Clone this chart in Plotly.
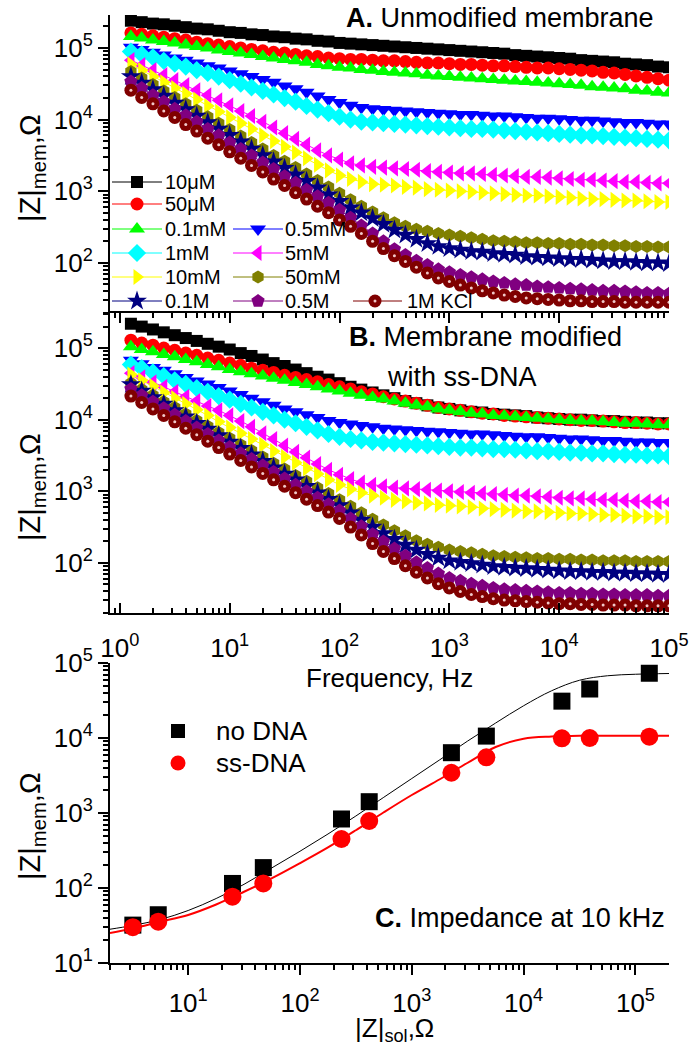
import plotly.graph_objects as go

# ---------------- data ----------------
freq_hz = [1.26, 1.58, 2.0, 2.51, 3.16, 3.98, 5.01, 6.31, 7.94, 10.0,
           12.6, 15.8, 20.0, 25.1, 31.6, 39.8, 50.1, 63.1, 79.4, 100.0,
           126, 158, 200, 251, 316, 398, 501, 631, 794, 1000,
           1259, 1585, 1995, 2512, 3162, 3981, 5012, 6310, 7943, 10000,
           12589, 15849, 19953, 25119, 31623, 39811, 50119, 63096, 79433, 100000]

conc_labels = ["10μM", "50μM", "0.1mM", "0.5mM", "1mM", "5mM",
               "10mM", "50mM", "0.1M", "0.5M", "1M KCl"]

# log10(|Z|mem / Ohm) (unmodified membrane)
a_10uM = [5.38,5.36,5.34,5.33,5.31,5.29,5.27,5.26,5.24,5.22, 5.21,5.19,5.18,5.16,5.15,5.13,5.12,5.10,5.09,5.07, 5.06,5.05,5.04,5.03,5.02,5.01,5.00,4.99,4.98,4.97, 4.96,4.95,4.94,4.93,4.92,4.90,4.89,4.88,4.87,4.86, 4.85,4.83,4.82,4.81,4.80,4.78,4.77,4.76,4.74,4.73]
a_50uM = [5.21,5.19,5.17,5.15,5.13,5.11,5.08,5.06,5.04,5.02, 5.00,4.98,4.96,4.94,4.93,4.91,4.89,4.88,4.86,4.85, 4.84,4.84,4.83,4.82,4.82,4.81,4.80,4.79,4.79,4.78, 4.77,4.77,4.76,4.75,4.75,4.74,4.73,4.72,4.72,4.71, 4.70,4.69,4.68,4.66,4.65,4.63,4.61,4.59,4.57,4.55]
a_0p1mM = [5.16,5.14,5.11,5.09,5.07,5.04,5.02,5.00,4.97,4.95, 4.93,4.91,4.88,4.86,4.84,4.82,4.80,4.77,4.75,4.73, 4.72,4.70,4.69,4.67,4.66,4.65,4.64,4.62,4.61,4.60, 4.59,4.58,4.57,4.56,4.55,4.54,4.53,4.52,4.51,4.50, 4.49,4.48,4.46,4.45,4.44,4.43,4.41,4.40,4.38,4.37]
a_0p5mM = [5.01,4.98,4.94,4.90,4.86,4.83,4.79,4.75,4.72,4.68, 4.64,4.60,4.56,4.52,4.47,4.43,4.38,4.33,4.28,4.24, 4.20,4.17,4.15,4.14,4.13,4.12,4.11,4.10,4.09,4.08, 4.07,4.07,4.06,4.05,4.05,4.04,4.03,4.02,4.02,4.01, 4.00,3.99,3.99,3.98,3.97,3.96,3.96,3.95,3.94,3.94]
a_1mM = [4.95,4.91,4.87,4.82,4.78,4.74,4.69,4.65,4.60,4.55, 4.50,4.45,4.40,4.35,4.30,4.25,4.19,4.14,4.09,4.04, 4.00,3.97,3.96,3.95,3.94,3.93,3.92,3.91,3.90,3.89, 3.88,3.87,3.87,3.86,3.85,3.84,3.83,3.82,3.81,3.80, 3.79,3.78,3.78,3.77,3.76,3.75,3.74,3.73,3.72,3.71]
a_5mM = [4.83,4.76,4.69,4.62,4.55,4.48,4.41,4.34,4.27,4.20, 4.12,4.05,3.97,3.89,3.81,3.73,3.65,3.57,3.50,3.44, 3.39,3.36,3.34,3.33,3.32,3.31,3.30,3.28,3.27,3.26, 3.25,3.25,3.24,3.23,3.22,3.21,3.20,3.20,3.19,3.18, 3.17,3.16,3.16,3.15,3.14,3.13,3.13,3.12,3.11,3.11]
a_10mM = [4.77,4.69,4.60,4.52,4.44,4.36,4.28,4.19,4.11,4.03, 3.95,3.87,3.78,3.70,3.62,3.54,3.46,3.37,3.29,3.22, 3.17,3.13,3.10,3.09,3.08,3.06,3.05,3.03,3.02,3.01, 3.00,2.99,2.98,2.97,2.96,2.95,2.94,2.94,2.93,2.92, 2.91,2.90,2.89,2.89,2.88,2.87,2.87,2.86,2.85,2.85]
a_50mM = [4.67,4.58,4.49,4.40,4.31,4.22,4.13,4.04,3.95,3.86, 3.77,3.68,3.59,3.50,3.42,3.33,3.24,3.15,3.06,2.97, 2.88,2.79,2.71,2.63,2.56,2.51,2.47,2.44,2.41,2.39, 2.37,2.35,2.33,2.31,2.30,2.29,2.28,2.28,2.27,2.27, 2.26,2.26,2.25,2.25,2.24,2.24,2.23,2.23,2.22,2.22]
a_0p1M = [4.60,4.51,4.42,4.33,4.23,4.14,4.05,3.96,3.87,3.78, 3.69,3.59,3.50,3.41,3.32,3.23,3.14,3.05,2.95,2.86, 2.77,2.70,2.62,2.54,2.46,2.39,2.33,2.27,2.23,2.20, 2.18,2.16,2.15,2.13,2.12,2.11,2.09,2.08,2.07,2.06, 2.05,2.05,2.04,2.03,2.02,2.02,2.01,2.00,2.00,1.99]
a_0p5M = [4.53,4.44,4.34,4.25,4.15,4.06,3.97,3.87,3.78,3.68, 3.59,3.50,3.40,3.31,3.21,3.12,3.02,2.93,2.84,2.74, 2.63,2.52,2.41,2.30,2.19,2.11,2.03,1.97,1.91,1.87, 1.83,1.80,1.77,1.74,1.72,1.70,1.69,1.67,1.66,1.65, 1.64,1.63,1.62,1.61,1.61,1.60,1.59,1.58,1.58,1.57]
a_1M = [4.41,4.31,4.22,4.12,4.03,3.93,3.84,3.74,3.65,3.55, 3.46,3.36,3.27,3.17,3.08,2.98,2.89,2.79,2.70,2.60, 2.51,2.41,2.30,2.20,2.10,2.02,1.94,1.86,1.79,1.74, 1.69,1.65,1.61,1.58,1.55,1.53,1.51,1.50,1.49,1.48, 1.47,1.47,1.46,1.46,1.46,1.45,1.45,1.45,1.45,1.45]

# log10(|Z|mem / Ohm) (membrane modified with ss-DNA)
b_10uM = [5.34,5.30,5.26,5.22,5.18,5.14,5.10,5.06,5.02,4.98, 4.93,4.89,4.84,4.79,4.75,4.70,4.65,4.60,4.56,4.51, 4.46,4.42,4.38,4.34,4.30,4.26,4.23,4.20,4.17,4.15, 4.13,4.11,4.10,4.08,4.07,4.06,4.05,4.03,4.02,4.01, 4.00,4.00,3.99,3.98,3.98,3.97,3.96,3.96,3.95,3.95]
b_50uM = [5.11,5.07,5.04,5.00,4.97,4.93,4.90,4.86,4.83,4.79, 4.76,4.72,4.69,4.66,4.62,4.59,4.56,4.53,4.49,4.46, 4.43,4.39,4.36,4.32,4.29,4.26,4.23,4.20,4.17,4.15, 4.13,4.11,4.09,4.08,4.06,4.05,4.04,4.03,4.02,4.01, 4.00,3.99,3.99,3.98,3.97,3.96,3.96,3.95,3.94,3.94]
b_0p1mM = [5.02,4.98,4.95,4.91,4.88,4.84,4.81,4.77,4.74,4.70, 4.67,4.64,4.61,4.58,4.55,4.52,4.49,4.46,4.43,4.40, 4.37,4.34,4.31,4.29,4.26,4.23,4.20,4.18,4.15,4.13, 4.11,4.09,4.08,4.06,4.05,4.04,4.03,4.02,4.01,4.00, 3.99,3.98,3.98,3.97,3.96,3.95,3.95,3.94,3.93,3.93]
b_0p5mM = [4.83,4.78,4.73,4.69,4.64,4.59,4.54,4.50,4.45,4.40, 4.35,4.30,4.25,4.20,4.15,4.11,4.07,4.03,3.99,3.96, 3.94,3.92,3.90,3.88,3.87,3.86,3.85,3.84,3.83,3.82, 3.81,3.80,3.80,3.79,3.78,3.77,3.76,3.76,3.75,3.74, 3.73,3.73,3.72,3.71,3.71,3.70,3.69,3.69,3.68,3.68]
b_1mM = [4.77,4.72,4.66,4.61,4.55,4.50,4.44,4.39,4.33,4.28, 4.22,4.17,4.11,4.06,4.00,3.95,3.90,3.85,3.80,3.76, 3.73,3.71,3.69,3.68,3.67,3.66,3.65,3.64,3.63,3.62, 3.61,3.61,3.60,3.59,3.59,3.58,3.57,3.56,3.56,3.55, 3.54,3.54,3.53,3.53,3.52,3.51,3.51,3.50,3.50,3.49]
b_5mM = [4.65,4.59,4.52,4.46,4.39,4.32,4.26,4.19,4.13,4.06, 3.98,3.90,3.81,3.73,3.64,3.55,3.47,3.38,3.30,3.23, 3.17,3.12,3.09,3.07,3.05,3.04,3.03,3.02,3.01,3.00, 2.99,2.98,2.97,2.96,2.95,2.94,2.94,2.93,2.92,2.91, 2.90,2.90,2.89,2.88,2.88,2.87,2.86,2.86,2.85,2.85]
b_10mM = [4.63,4.55,4.47,4.38,4.30,4.22,4.14,4.06,3.97,3.89, 3.81,3.73,3.65,3.56,3.48,3.40,3.32,3.24,3.16,3.09, 3.03,2.98,2.94,2.91,2.88,2.86,2.84,2.83,2.81,2.80, 2.79,2.78,2.76,2.75,2.74,2.73,2.72,2.72,2.71,2.70, 2.69,2.69,2.68,2.67,2.67,2.66,2.65,2.65,2.64,2.64]
b_50mM = [4.51,4.42,4.34,4.25,4.17,4.08,3.99,3.91,3.82,3.74, 3.65,3.57,3.48,3.39,3.31,3.22,3.14,3.05,2.97,2.88, 2.79,2.70,2.61,2.53,2.45,2.38,2.31,2.26,2.22,2.18, 2.16,2.14,2.12,2.10,2.09,2.08,2.07,2.06,2.06,2.05, 2.05,2.04,2.04,2.03,2.03,2.03,2.02,2.02,2.02,2.02]
b_0p1M = [4.49,4.40,4.31,4.22,4.13,4.04,3.95,3.87,3.78,3.69, 3.60,3.51,3.42,3.33,3.24,3.16,3.07,2.98,2.89,2.80, 2.70,2.60,2.50,2.41,2.33,2.25,2.18,2.12,2.07,2.03, 2.01,1.99,1.97,1.95,1.94,1.93,1.92,1.91,1.90,1.89, 1.88,1.88,1.87,1.87,1.86,1.86,1.85,1.85,1.84,1.84]
b_0p5M = [4.43,4.34,4.25,4.16,4.07,3.98,3.89,3.80,3.71,3.62, 3.53,3.45,3.36,3.27,3.18,3.09,3.00,2.91,2.82,2.73, 2.62,2.51,2.40,2.30,2.20,2.10,2.01,1.93,1.85,1.79, 1.75,1.71,1.68,1.65,1.63,1.62,1.61,1.60,1.59,1.58, 1.58,1.57,1.57,1.56,1.56,1.55,1.55,1.55,1.54,1.54]
b_1M = [4.33,4.24,4.15,4.06,3.97,3.88,3.79,3.70,3.61,3.52, 3.43,3.34,3.25,3.16,3.07,2.98,2.89,2.80,2.71,2.62, 2.50,2.39,2.27,2.16,2.06,1.96,1.87,1.79,1.71,1.65, 1.60,1.56,1.53,1.50,1.48,1.47,1.46,1.45,1.44,1.43, 1.43,1.42,1.42,1.41,1.41,1.41,1.40,1.40,1.40,1.40]

# Panel C: impedance at 10 kHz
zsol_ohm = [3.2, 5.4, 24.9, 47, 235, 416, 2260, 4640, 22000, 39000, 133000]
zmem_no_dna = [32, 44, 115, 187, 832, 1415, 6370, 10600, 31000, 45000, 73000]
zmem_ss_dna = [30, 35.6, 76.6, 115, 450, 782, 3440, 5530, 9900, 10000, 10400]
# fitted curves
fit_zsol = [2.0, 3.16, 5.62, 10, 17.8, 31.6, 56.2, 100, 178, 316, 562, 1000, 1780,
            3160, 5620, 10000, 17800, 31600, 56200, 100000, 200000]
fit_no_dna = [28.2, 31.6, 38.0, 50.1, 72.4, 112, 186, 309, 525, 912, 1622, 2884, 5129,
              9120, 15850, 26920, 42660, 58880, 67610, 70790, 72440]
fit_ss_dna = [25.1, 28.8, 35.5, 43.7, 60.3, 89.1, 135, 214, 347, 589, 1023, 1738, 2818,
              4677, 7586, 9772, 10470, 10720, 10720, 10720, 10720]

freq_ticks = [1, 10, 100, 1000, 10000, 100000]
freq_ticktext = ["10<sup>0</sup>", "10<sup>1</sup>", "10<sup>2</sup>",
                 "10<sup>3</sup>", "10<sup>4</sup>", "10<sup>5</sup>"]
zab_ticks = [100, 1000, 10000, 100000]
zab_ticktext = ["10<sup>2</sup>", "10<sup>3</sup>", "10<sup>4</sup>", "10<sup>5</sup>"]
zc_ticks = [10, 100, 1000, 10000, 100000]
zc_ticktext = ["10<sup>1</sup>", "10<sup>2</sup>", "10<sup>3</sup>", "10<sup>4</sup>", "10<sup>5</sup>"]

panel_a = [a_10uM, a_50uM, a_0p1mM, a_0p5mM, a_1mM, a_5mM, a_10mM, a_50mM, a_0p1M, a_0p5M, a_1M]
panel_b = [b_10uM, b_50uM, b_0p1mM, b_0p5mM, b_1mM, b_5mM, b_10mM, b_50mM, b_0p1M, b_0p5M, b_1M]

# ---------------- style ----------------
W, H = 694, 1050
FONT = "Liberation Sans, Arial, sans-serif"
colors = ["#000000", "#FF0000", "#00FF00", "#0000FF", "#00FFFF", "#FF00FF",
          "#FFFF00", "#808000", "#000080", "#800080", "#800000"]
symbols = ["square", "circle", "triangle-up", "triangle-down", "diamond", "triangle-left",
           "triangle-right", "hexagon", "star", "pentagon", "circle"]
msizes = [12, 13, 14, 14, 14, 14, 14, 13, 15, 14, 13]
HILITE = "#f0c8c8"

def px_x(p):
    return p / W

def px_y(p):
    return 1 - p / H

XDOM = [px_x(110), px_x(669)]

fig = go.Figure()

def add_panel(data, xa, ya):
    for i, series in enumerate(data):
        z = [10 ** v for v in series]
        fig.add_trace(go.Scatter(
            x=freq_hz, y=z, mode="lines+markers", xaxis=xa, yaxis=ya,
            line=dict(color=colors[i], width=1),
            marker=dict(symbol=symbols[i], size=msizes[i], color=colors[i], line=dict(width=0)),
            showlegend=False, hoverinfo="skip"))
        if i == len(data) - 1:
            fig.add_trace(go.Scatter(
                x=freq_hz, y=z, mode="markers", xaxis=xa, yaxis=ya,
                marker=dict(symbol="circle", size=3, color=HILITE, line=dict(width=0)),
                showlegend=False, hoverinfo="skip"))

add_panel(panel_a, "x", "y")
add_panel(panel_b, "x2", "y2")

# Panel C
fig.add_trace(go.Scatter(x=fit_zsol, y=fit_no_dna, mode="lines", xaxis="x3", yaxis="y3",
                         line=dict(color="black", width=1, shape="spline"), showlegend=False))
fig.add_trace(go.Scatter(x=fit_zsol, y=fit_ss_dna, mode="lines", xaxis="x3", yaxis="y3",
                         line=dict(color="red", width=2, shape="spline"), showlegend=False))
fig.add_trace(go.Scatter(x=zsol_ohm, y=zmem_no_dna, mode="markers", xaxis="x3", yaxis="y3",
                         marker=dict(symbol="square", size=17, color="black"), showlegend=False))
fig.add_trace(go.Scatter(x=zsol_ohm, y=zmem_ss_dna, mode="markers", xaxis="x3", yaxis="y3",
                         marker=dict(symbol="circle", size=18, color="red"), showlegend=False))

# ---------------- legends (drawn on a pixel overlay) ----------------
leg_rows_left = [(0, 182), (1, 204), (2, 229), (4, 253), (6, 277), (8, 301)]
leg_rows_right = [(3, 229), (5, 253), (7, 277), (9, 301)]
leg_rows_third = [(10, 301)]
annotations = []

def legend_entry(idx, y, x0, x1, xm, xt):
    fig.add_trace(go.Scatter(x=[x0, x1], y=[y, y], mode="lines", xaxis="x4", yaxis="y4",
                             line=dict(color=colors[idx], width=1), showlegend=False, hoverinfo="skip"))
    fig.add_trace(go.Scatter(x=[xm], y=[y], mode="markers", xaxis="x4", yaxis="y4",
                             marker=dict(symbol=symbols[idx], size=msizes[idx], color=colors[idx]),
                             showlegend=False, hoverinfo="skip"))
    if idx == 10:
        fig.add_trace(go.Scatter(x=[xm], y=[y], mode="markers", xaxis="x4", yaxis="y4",
                                 marker=dict(symbol="circle", size=3, color=HILITE),
                                 showlegend=False, hoverinfo="skip"))
    annotations.append(dict(x=xt, y=y, xref="x4", yref="y4", text=conc_labels[idx],
                            showarrow=False, xanchor="left", yanchor="middle",
                            font=dict(size=20, family=FONT, color="black")))

for idx, y in leg_rows_left:
    legend_entry(idx, y, 112, 162, 137, 163)
for idx, y in leg_rows_right:
    legend_entry(idx, y, 233, 283, 258, 283)
for idx, y in leg_rows_third:
    legend_entry(idx, y, 353, 402, 375, 405)

# Panel C legend
fig.add_trace(go.Scatter(x=[178], y=[731], mode="markers", xaxis="x4", yaxis="y4",
                         marker=dict(symbol="square", size=14, color="black"), showlegend=False))
fig.add_trace(go.Scatter(x=[178], y=[763], mode="markers", xaxis="x4", yaxis="y4",
                         marker=dict(symbol="circle", size=15, color="red"), showlegend=False))
for txt, y in [("no DNA", 731), ("ss-DNA", 763)]:
    annotations.append(dict(x=214, y=y, xref="x4", yref="y4", text=txt, showarrow=False,
                            xanchor="left", yanchor="middle",
                            font=dict(size=26, family=FONT, color="black")))

def text_ann(txt, x, y, size=26, xanchor="left", angle=0):
    annotations.append(dict(x=x, y=y, xref="x4", yref="y4", text=txt, showarrow=False,
                            xanchor=xanchor, yanchor="middle", textangle=angle,
                            font=dict(size=size, family=FONT, color="black")))

text_ann("<b>A.</b> Unmodified membrane", 344, 18, size=27)
text_ann("<b>B.</b> Membrane modified", 347, 337, size=27)
text_ann("with ss-DNA", 385, 377, size=27)
text_ann("<b>C.</b> Impedance at 10 kHz", 667, 918, size=27, xanchor="right")
text_ann("Frequency, Hz", 389, 678, size=26, xanchor="center")
text_ann("|Z|<sub>sol</sub>,Ω", 394, 1029, size=26, xanchor="center")
ytitle = "|Z|<sub>mem</sub>,Ω"
text_ann(ytitle, 32, 168, size=29, xanchor="center", angle=-90)
text_ann(ytitle, 32, 487, size=29, xanchor="center", angle=-90)
text_ann(ytitle, 32, 826, size=29, xanchor="center", angle=-90)

# ---------------- axes ----------------
tickfont = dict(size=26, family=FONT, color="black")

def log_axis(domain, rng, tickvals, ticktext, ticks, anchor, mirror=False, standoff=None):
    d = dict(type="log", domain=domain, range=rng, anchor=anchor,
             showline=True, linecolor="black", linewidth=2, mirror=mirror,
             ticks=ticks, ticklen=10, tickwidth=2, tickcolor="black",
             tickmode="array", tickvals=tickvals, ticktext=ticktext,
             tickfont=tickfont, ticklabeloverflow="allow",
             minor=dict(ticks=ticks, ticklen=5, tickwidth=1.5, tickcolor="black", dtick="D1", showgrid=False),
             showgrid=False, zeroline=False, automargin=False)
    if standoff is not None:
        d["ticklabelstandoff"] = standoff
    return d

A_Y = [px_y(313), px_y(15)]
B_Y = [px_y(613), px_y(313)]
C_Y = [px_y(963), px_y(663)]

fig.update_layout(
    width=W, height=H, autosize=False,
    margin=dict(l=0, r=0, t=0, b=0),
    paper_bgcolor="white", plot_bgcolor="rgba(0,0,0,0)",
    font=dict(family=FONT, color="black"),
    showlegend=False,
    xaxis=dict(type="log", domain=XDOM, range=[-0.09, 5.0], anchor="y", visible=False),
    yaxis=log_axis(A_Y, [1.30, 5.46], zab_ticks, zab_ticktext, "outside", "x"),
    xaxis2=log_axis(XDOM, [-0.09, 5.0], freq_ticks, freq_ticktext, "inside", "y2",
                    mirror="allticks", standoff=11),
    yaxis2=log_axis(B_Y, [1.30, 5.49], zab_ticks, zab_ticktext, "outside", "x2"),
    xaxis3=log_axis(XDOM, [0.301, 5.30], zc_ticks, zc_ticktext, "outside", "y3", standoff=6),
    yaxis3=log_axis(C_Y, [1.0, 5.0], zc_ticks, zc_ticktext, "outside", "x3"),
    xaxis4=dict(domain=[0, 1], range=[0, W], anchor="y4", visible=False, fixedrange=True),
    yaxis4=dict(domain=[0, 1], range=[H, 0], anchor="x4", visible=False, fixedrange=True),
    annotations=annotations,
)

fig.write_html("out.html", config={"displayModeBar": False},
               post_script="document.body.style.margin='0';document.body.style.overflow='hidden';")
